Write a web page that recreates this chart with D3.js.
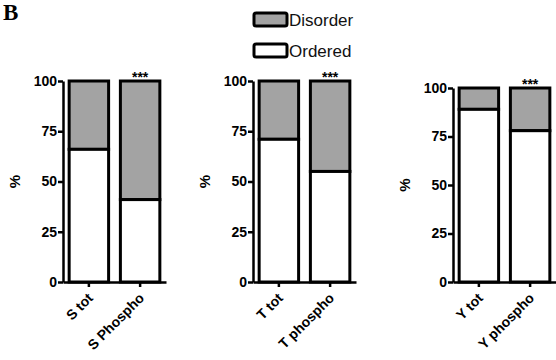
<!DOCTYPE html>
<html>
<head>
<meta charset="utf-8">
<script src="https://cdn.jsdelivr.net/npm/d3@7"></script>
<style>
  body { margin: 0; background: #fff; }
  svg { display: block; }
</style>
</head>
<body>
<div id="chart"></div>
<script>
// data
var categories = [["S tot", "S Phospho"], ["T tot", "T phospho"], ["Y tot", "Y phospho"]];
var ordered = [[66, 41], [71, 55], [89, 78]];
var disorder = [[34, 59], [29, 45], [11, 22]];
var stars = ["***", "***", "***"];
var yTicks = [0, 25, 50, 75, 100];
var legendLabels = ["Disorder", "Ordered"];

var w = 556, h = 360;
var grey = "#a3a3a3";
var font = "'Liberation Sans', Arial, sans-serif";

// panel placement
var axisX = [63, 253, 453];
var topY = [81, 81, 88];
var bottomY = 282;
var panelW = 103;

var svg = d3.select("#chart").append("svg")
  .attr("width", w)
  .attr("height", h);

// panel letter
svg.append("text")
  .attr("x", 3).attr("y", 20)
  .attr("font-family", "'Liberation Serif', 'Times New Roman', serif")
  .attr("font-weight", "bold")
  .attr("font-size", 23)
  .text("B");

// legend
var colors = [grey, "#fff"];
var leg = svg.selectAll("g.leg")
  .data(legendLabels)
  .enter().append("g")
  .attr("class", "leg")
  .attr("transform", function(d, i) { return "translate(254," + (13 + i * 31) + ")"; });
leg.append("rect")
  .attr("width", 33).attr("height", 13)
  .attr("rx", 2)
  .attr("fill", function(d, i) { return colors[i]; })
  .attr("stroke", "#000").attr("stroke-width", 3);
leg.append("text")
  .attr("x", 35).attr("y", 13)
  .attr("font-family", font)
  .attr("font-size", 17)
  .attr("fill", "#111")
  .text(function(d) { return d; });

categories.forEach(function(cats, p) {
  var g = svg.append("g");

  var x = d3.scaleBand()
    .domain(cats)
    .range([axisX[p], axisX[p] + panelW])
    .paddingInner(0.23)
    .paddingOuter(0.12);

  var y = d3.scaleLinear()
    .domain([0, 100])
    .range([bottomY, topY[p]]);

  var rows = cats.map(function(c, i) {
    return { cat: c, ord: ordered[p][i], dis: disorder[p][i] };
  });

  // disorder part (top)
  g.selectAll("rect.dis")
    .data(rows)
    .enter().append("rect")
    .attr("class", "dis")
    .attr("x", function(d) { return x(d.cat); })
    .attr("width", x.bandwidth())
    .attr("y", function(d) { return y(d.ord + d.dis); })
    .attr("height", function(d) { return y(d.ord) - y(d.ord + d.dis); })
    .attr("fill", grey)
    .attr("stroke", "#000").attr("stroke-width", 3);

  // ordered part (bottom)
  g.selectAll("rect.ord")
    .data(rows)
    .enter().append("rect")
    .attr("class", "ord")
    .attr("x", function(d) { return x(d.cat); })
    .attr("width", x.bandwidth())
    .attr("y", function(d) { return y(d.ord); })
    .attr("height", function(d) { return y(0) - y(d.ord); })
    .attr("fill", "#fff")
    .attr("stroke", "#000").attr("stroke-width", 3);

  // significance
  g.append("text")
    .attr("x", x(cats[1]) + x.bandwidth() / 2)
    .attr("y", y(100) + 1)
    .attr("text-anchor", "middle")
    .attr("font-family", font)
    .attr("font-weight", "bold")
    .attr("font-size", 14)
    .text(stars[p]);

  // y axis
  var ya = g.append("g")
    .attr("transform", "translate(" + axisX[p] + ",0)")
    .call(d3.axisLeft(y).tickValues(yTicks).tickSize(5).tickSizeOuter(0));
  ya.select(".domain").attr("stroke-width", 2.5);
  ya.selectAll(".tick line").attr("stroke-width", 2.5);
  ya.selectAll(".tick text")
    .attr("x", -6)
    .attr("font-family", font)
    .attr("font-weight", "bold")
    .attr("font-size", 14);

  // x axis (ticks only, labels drawn below)
  var xa = g.append("g")
    .attr("transform", "translate(0," + bottomY + ")")
    .call(d3.axisBottom(x).tickSize(5).tickSizeOuter(0).tickFormat(""));
  xa.select(".domain").attr("stroke-width", 2.5);
  xa.selectAll(".tick line").attr("stroke-width", 2.5);

  g.selectAll("text.xl")
    .data(cats)
    .enter().append("text")
    .attr("class", "xl")
    .attr("text-anchor", "end")
    .attr("transform", function(d) {
      return "translate(" + (x(d) + x.bandwidth() / 2 + 5) + "," + (bottomY + 17) + ") rotate(-45)";
    })
    .attr("font-family", font)
    .attr("font-weight", "bold")
    .attr("font-size", 14)
    .text(function(d) { return d; });

  // y label
  g.append("text")
    .attr("transform", "translate(" + (axisX[p] - 43) + "," + ((y(0) + y(100)) / 2) + ") rotate(-90)")
    .attr("text-anchor", "middle")
    .attr("font-family", font)
    .attr("font-weight", "bold")
    .attr("font-size", 15)
    .text("%");
});
</script>
</body>
</html>
